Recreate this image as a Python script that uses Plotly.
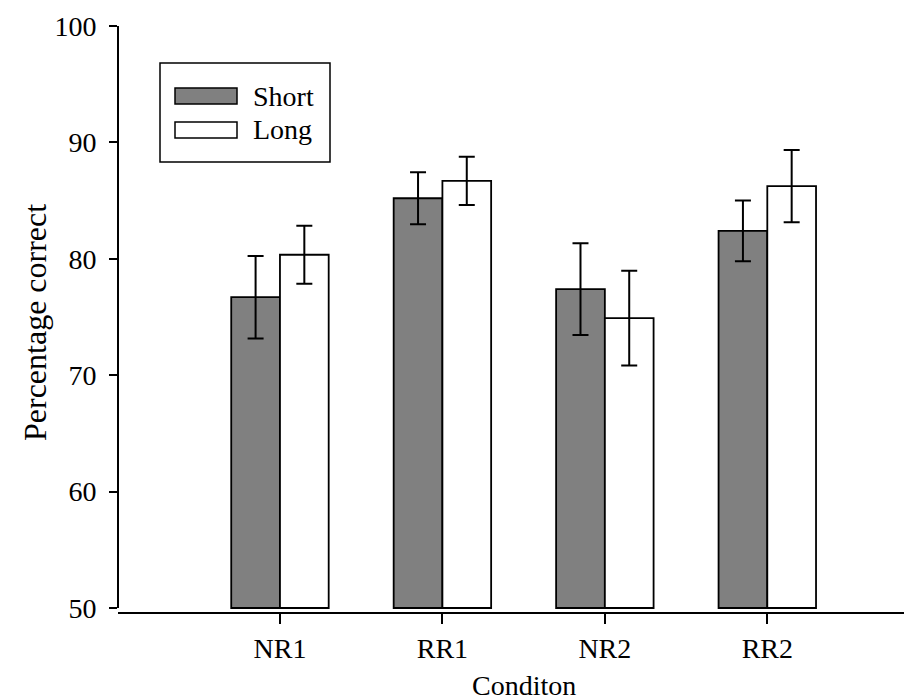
import plotly.graph_objects as go

categories = ["NR1", "RR1", "NR2", "RR2"]
series_names = ["Short", "Long"]
short_vals = [76.7, 85.2, 77.4, 82.4]
short_err = [3.55, 2.24, 3.94, 2.6]
long_vals = [80.35, 86.7, 74.9, 86.25]
long_err = [2.5, 2.07, 4.07, 3.1]
y_ticks = [50, 60, 70, 80, 90, 100]
y_title = "Percentage correct"
x_title = "Conditon"

W, H = 912, 700
L, R, T, B = 110, 0, 18, 96
PW, PH = W - L - R, H - T - B
BASE = 50
FONT = "Liberation Serif"
FS = 28


def px(x):
    return (x - L) / PW


def py(y):
    return (H - B - y) / PH


fig = go.Figure()
fills = ["#808080", "#ffffff"]
for name, vals, errs, fill in [(series_names[0], short_vals, short_err, fills[0]),
                               (series_names[1], long_vals, long_err, fills[1])]:
    fig.add_trace(go.Bar(
        x=categories, y=[v - BASE for v in vals], base=BASE, name=name,
        marker=dict(color=fill, line=dict(color="black", width=1.8)),
        error_y=dict(type="data", array=errs, visible=True, color="black",
                     thickness=2, width=8),
        showlegend=False,
    ))

fig.update_layout(
    width=W, height=H, margin=dict(l=L, r=R, t=T, b=B, pad=0),
    plot_bgcolor="white", paper_bgcolor="white",
    barmode="group", bargap=0.4, bargroupgap=0,
    font=dict(family=FONT, size=FS, color="black"),
    showlegend=False,
)
fig.update_xaxes(
    range=[-0.997, 3.94], showline=True, linecolor="black", linewidth=2,
    ticks="outside", ticklen=10, tickwidth=1.5, tickcolor="black",
    showgrid=False, zeroline=False, tickfont=dict(size=FS),
)
y_lo = BASE - 4 / ((H - B - 4 - T) / 50)
fig.update_yaxes(
    range=[y_lo, 100], showline=False, tickvals=y_ticks,
    ticks="outside", ticklen=8, tickwidth=1.5, tickcolor="black",
    showgrid=False, zeroline=False, tickfont=dict(size=FS),
    ticklabelstandoff=7,
)
# y axis spine from 50 to 100
fig.add_shape(type="line", xref="paper", yref="y", x0=0, x1=0, y0=BASE, y1=100,
              line=dict(color="black", width=2))

# axis titles
fig.add_annotation(text=y_title, xref="paper", yref="paper", x=px(27), y=py(315),
                   textangle=-90, showarrow=False, font=dict(size=32),
                   xanchor="center", yanchor="middle")
fig.add_annotation(text=x_title, xref="x", yref="paper", x=1.5, y=py(678),
                   showarrow=False, font=dict(size=FS),
                   xanchor="center", yanchor="middle")

# legend box
fig.add_shape(type="rect", xref="paper", yref="paper",
              x0=px(152), x1=px(322), y0=py(154), y1=py(55),
              line=dict(color="black", width=1.5), fillcolor="white")
for i, (name, fill) in enumerate(zip(series_names, fills)):
    cy = 88 + i * 34
    fig.add_shape(type="rect", xref="paper", yref="paper",
                  x0=px(167), x1=px(229), y0=py(cy + 8), y1=py(cy - 8),
                  line=dict(color="black", width=1.5), fillcolor=fill)
    fig.add_annotation(text=name, xref="paper", yref="paper", x=px(243), y=py(cy),
                       showarrow=False, xanchor="left", yanchor="middle",
                       font=dict(size=FS))

fig.write_html("out.html")
